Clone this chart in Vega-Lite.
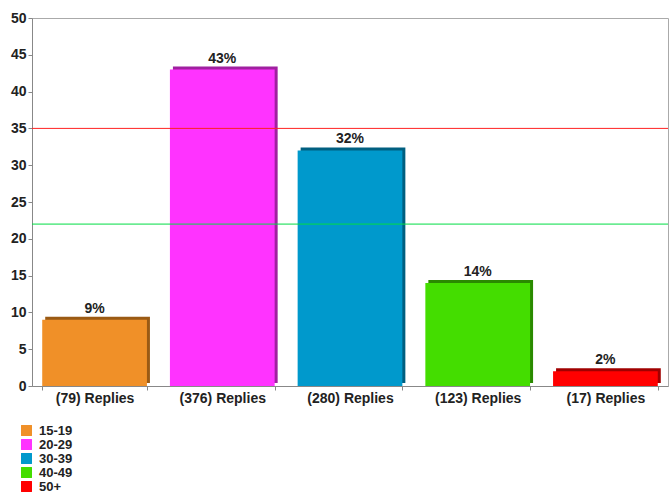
{
  "$schema": "https://vega.github.io/schema/vega-lite/v6.json",
  "autosize": {"type": "none"},
  "width": 636,
  "height": 368,
  "padding": {"left": 32, "top": 18, "right": 2, "bottom": 107},
  "background": "white",
  "config": {
    "view": {"stroke": "#aaaaaa", "strokeWidth": 1},
    "font": "Liberation Sans",
    "axis": {"labelFont": "Liberation Sans", "labelFontWeight": "bold", "labelColor": "#222222", "domainColor": "#888888", "tickColor": "#888888"}
  },
  "data": {
    "values": [
      {"replies": "(79) Replies", "group": "15-19", "pct": 9, "label": "9%"},
      {"replies": "(376) Replies", "group": "20-29", "pct": 43, "label": "43%"},
      {"replies": "(280) Replies", "group": "30-39", "pct": 32, "label": "32%"},
      {"replies": "(123) Replies", "group": "40-49", "pct": 14, "label": "14%"},
      {"replies": "(17) Replies", "group": "50+", "pct": 2, "label": "2%"}
    ]
  },
  "encoding": {
    "x": {
      "field": "replies", "type": "nominal", "sort": null,
      "scale": {"paddingInner": 0.18, "paddingOuter": 0.08},
      "axis": {"title": null, "labelAngle": 0, "labelFontSize": 14, "tickBand": "extent", "tickSize": 4, "labelPadding": 1}
    },
    "y": {
      "field": "pct", "type": "quantitative",
      "scale": {"domain": [0, 50]},
      "axis": {"title": null, "values": [0, 5, 10, 15, 20, 25, 30, 35, 40, 45, 50], "grid": false, "labelFontSize": 14, "tickSize": 4, "labelPadding": 2}
    }
  },
  "layer": [
    {
      "mark": {"type": "bar", "xOffset": 3, "yOffset": -3},
      "encoding": {
        "color": {"field": "group", "type": "nominal", "scale": {"domain": ["15-19", "20-29", "30-39", "40-49", "50+"], "range": ["#9a5a14", "#a020a0", "#005f80", "#2a8a00", "#a00000"]}, "legend": null}
      }
    },
    {
      "mark": {"type": "bar"},
      "encoding": {
        "color": {
          "field": "group", "type": "nominal",
          "scale": {"domain": ["15-19", "20-29", "30-39", "40-49", "50+"], "range": ["#f09028", "#ff33ff", "#0099cc", "#44dd00", "#ff0000"]},
          "legend": {
            "title": null, "orient": "none", "legendX": -12, "legendY": 406, "direction": "vertical",
            "symbolType": "square", "symbolSize": 120, "symbolStrokeWidth": 0,
            "labelFontSize": 13, "labelFontWeight": "bold", "labelColor": "#222222", "labelFont": "Liberation Sans",
            "rowPadding": 0, "labelOffset": 6
          }
        }
      }
    },
    {
      "mark": {"type": "text", "dy": -11, "fontSize": 14, "fontWeight": "bold", "color": "#222222", "font": "Liberation Sans"},
      "encoding": {
        "text": {"field": "label"}
      }
    },
    {
      "data": {"values": [{"v": 35}, {"v": 22}]},
      "mark": {"type": "rule", "strokeWidth": 1},
      "encoding": {
        "x": null,
        "y": {"field": "v", "type": "quantitative"},
        "color": {"field": "v", "type": "nominal", "scale": {"domain": [35, 22], "range": ["#ff2222", "#00dd44"]}, "legend": null}
      }
    }
  ],
  "resolve": {"scale": {"color": "independent"}}
}
